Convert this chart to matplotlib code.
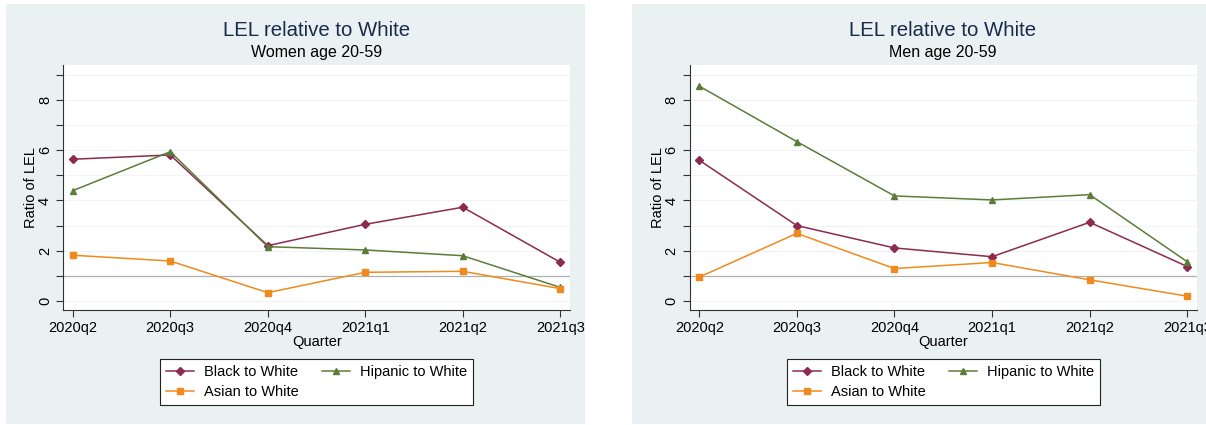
import numpy as np
import matplotlib
matplotlib.use("Agg")
import matplotlib.pyplot as plt
from matplotlib.patches import Rectangle
from matplotlib.lines import Line2D

plt.rcParams["font.family"] = ["Liberation Sans", "DejaVu Sans"]

QUARTERS = ["2020q2", "2020q3", "2020q4", "2021q1", "2021q2", "2021q3"]

# Women age 20-59
womenBlack = [5.64, 5.81, 2.20, 3.05, 3.73, 1.54]
womenHispanic = [4.39, 5.94, 2.16, 2.03, 1.80, 0.54]
womenAsian = [1.82, 1.59, 0.33, 1.14, 1.18, 0.49]

# Men age 20-59
menBlack = [5.60, 3.00, 2.11, 1.76, 3.13, 1.37]
menHispanic = [8.55, 6.34, 4.18, 4.02, 4.23, 1.56]
menAsian = [0.95, 2.69, 1.29, 1.53, 0.84, 0.19]

BLACK_COLOR = "#8c2a50"
HISP_COLOR = "#5c7d3a"
ASIAN_COLOR = "#f08a1c"
BG = "#eaf1f2"

W, H = 1206, 425


def fx(px):
    return px / W


def fy(py):
    return 1 - py / H


def drawPanel(fig, axLeft, axRight, bgLeft, bgRight, center, subtitle,
              black, hisp, asian, legLeft):
    # panel background, drawn below the axes
    fig.patches.append(Rectangle((fx(bgLeft), fy(424)), fx(bgRight - bgLeft),
                                 fy(4) - fy(424), transform=fig.transFigure,
                                 facecolor=BG, edgecolor="none", zorder=-5))
    ax = fig.add_axes([fx(axLeft), fy(310), fx(axRight - axLeft), fy(65) - fy(310)])
    ax.set_zorder(1)
    ax.set_facecolor("white")
    x = np.arange(len(QUARTERS))

    for v in range(0, 10):
        ax.axhline(v, color="#f3f3f3", lw=0.8, zorder=1)
    ax.axhline(1, color="#b0b0b0", lw=0.9, zorder=2)

    ax.plot(x, black, color=BLACK_COLOR, marker="D", ms=4.3, lw=1.1, zorder=3)
    ax.plot(x, hisp, color=HISP_COLOR, marker="^", ms=5, lw=1.1, zorder=3)
    ax.plot(x, asian, color=ASIAN_COLOR, marker="s", ms=4.5, lw=1.1, zorder=4)

    ax.set_xlim(-0.1, 5.1)
    ax.set_ylim(-0.36, 9.39)
    ax.set_xticks(x)
    ax.set_xticklabels(QUARTERS, fontsize=10.5)
    ax.set_yticks([0, 2, 4, 6, 8])
    ax.set_yticklabels(["0", "2", "4", "6", "8"], fontsize=10.5, rotation=90,
                       va="center")
    ax.set_yticks([1, 3, 5, 7, 9], minor=True)
    ax.tick_params(axis="both", which="both", length=5, width=0.8,
                   color="#333333", pad=3)
    for s in ["top", "right"]:
        ax.spines[s].set_visible(False)
    for s in ["left", "bottom"]:
        ax.spines[s].set_linewidth(0.8)
        ax.spines[s].set_color("#333333")

    fig.text(fx(center), fy(31), "LEL relative to White", ha="center",
             va="center", fontsize=14.7, color="#1a2a4a")
    fig.text(fx(center), fy(53), subtitle, ha="center", va="center", fontsize=11.5)
    fig.text(fx(center), fy(342), "Quarter", ha="center", va="center", fontsize=10.5)
    fig.text(fx(axLeft - 32), fy(188), "Ratio of LEL", ha="center", va="center",
             fontsize=10.5, rotation=90)

    handles = [
        Line2D([], [], color=BLACK_COLOR, marker="D", ms=4, lw=1.1),
        Line2D([], [], color=ASIAN_COLOR, marker="s", ms=4, lw=1.1),
        Line2D([], [], color=HISP_COLOR, marker="^", ms=4.5, lw=1.1),
    ]
    labels = ["Black to White", "Asian to White", "Hipanic to White"]
    leg = fig.legend(handles, labels, loc="upper left",
                     bbox_to_anchor=(fx(legLeft), fy(359)), ncol=2,
                     fontsize=10.5, frameon=True, fancybox=False,
                     edgecolor="#222222", framealpha=1, borderaxespad=0,
                     handlelength=1.9, columnspacing=1.6, labelspacing=0.42,
                     borderpad=0.42, handletextpad=0.7)
    leg.get_frame().set_linewidth(0.8)


def main():
    fig = plt.figure(figsize=(W / 100, H / 100), dpi=100)
    fig.patch.set_facecolor("white")
    drawPanel(fig, 63, 570, 6, 585, 317, "Women age 20-59",
              womenBlack, womenHispanic, womenAsian, 160)
    drawPanel(fig, 689.5, 1197, 632, 1212, 943, "Men age 20-59",
              menBlack, menHispanic, menAsian, 787)
    fig.savefig("out.png", dpi=100)


main()
